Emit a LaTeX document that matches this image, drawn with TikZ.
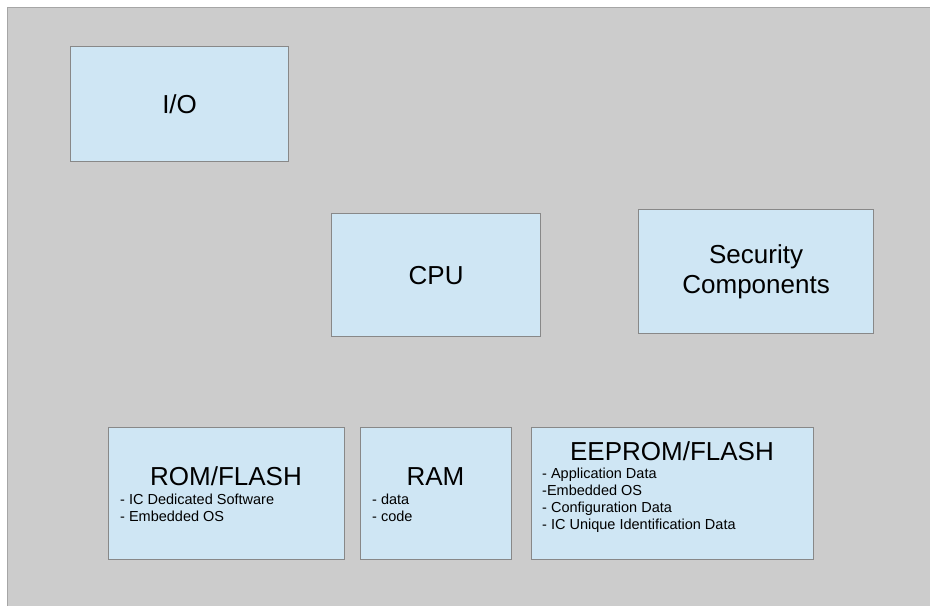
\documentclass[tikz,border=0pt]{standalone}
\usepackage{fontspec}
\setmainfont{Liberation Sans}
\begin{document}
\begin{tikzpicture}[x=1pt,y=-1pt]
\definecolor{bgc}{RGB}{204,204,204}
\definecolor{bgline}{RGB}{166,166,166}
\definecolor{boxfill}{RGB}{207,230,244}
\definecolor{boxline}{RGB}{136,136,136}
\tikzset{
 box/.style={draw=boxline, fill=boxfill, line width=1.2pt, anchor=north west, inner sep=0pt},
 title/.style={font=\fontsize{26}{29.5}\selectfont, align=center},
 sub/.style={font=\fontsize{14.5}{16.8}\selectfont, align=left, anchor=base west, inner sep=0pt}
}
\useasboundingbox (0,0) rectangle (930,606);
\fill[bgc] (7,7) rectangle (930,606);
\draw[bgline, line width=1.5pt] (7.5,606) -- (7.5,7.5) -- (930,7.5);
% upper boxes
\node[box, title, minimum width=218pt, minimum height=115pt] (io) at (70,46) {I/O};
\node[box, title, minimum width=209pt, minimum height=123pt] (cpu) at (331,213) {CPU};
\node[box, title, minimum width=235pt, minimum height=124pt] (sec) at (638,209) {Security\\Components};
% memory boxes
\node[box, minimum width=236pt, minimum height=132pt] (rom) at (108,427) {};
\node[box, minimum width=151pt, minimum height=132pt] (ram) at (360,427) {};
\node[box, minimum width=282pt, minimum height=132pt] (eep) at (531,427) {};
\node[title, anchor=base, inner sep=0pt] (romt) at (226,485) {ROM/FLASH};
\node[title, anchor=base, inner sep=0pt] (ramt) at (435.5,485) {RAM};
\node[title, anchor=base, inner sep=0pt] (eept) at (672,460) {EEPROM/FLASH};
% multi-line nodes: base anchor = baseline of last line
\node[sub] (roms) at (120,521) {- IC Dedicated Software\\- Embedded OS};
\node[sub] (rams) at (372,521) {- data\\- code};
\node[sub] (eeps) at (542,529) {- Application Data\\-Embedded OS\\- Configuration Data\\- IC Unique Identification Data};
\end{tikzpicture}
\end{document}
